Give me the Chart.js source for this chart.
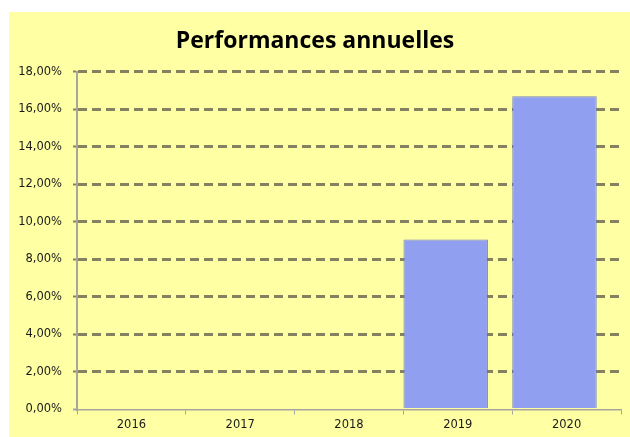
<!DOCTYPE html>
<html>
<head>
<meta charset="utf-8">
<script src="https://cdn.jsdelivr.net/npm/chart.js@4/dist/chart.umd.min.js"></script>
<style>
  html, body { margin: 0; padding: 0; background: #ffffff; width: 630px; height: 437px; overflow: hidden; }
  #c { position: absolute; left: 9px; top: 12px; background: #ffffa3; }
</style>
</head>
<body>
<canvas id="c" width="621" height="425"></canvas>
<script>
const categories = ['2016', '2017', '2018', '2019', '2020'];
const performances = [null, null, null, 9.06, 16.69];
const emptySeries = [null, null, null, null, null];
const chartTitle = 'Performances annuelles';
const yMin = 0, yMax = 18, yStep = 2;

const olive = '#838160';
const axisGray = '#a6a6a0';

new Chart(document.getElementById('c'), {
  type: 'bar',
  data: {
    labels: categories,
    datasets: [
      {
        label: 'Performances',
        data: performances,
        backgroundColor: '#909ff0',
        borderColor: 'rgba(95,110,200,0.85)',
        borderWidth: 1,
        categoryPercentage: 0.445,
        barPercentage: 3.49
      },
      {
        label: '',
        data: emptySeries,
        categoryPercentage: 0.445,
        barPercentage: 3.49
      }
    ]
  },
  options: {
    responsive: false,
    animation: false,
    devicePixelRatio: 1,
    layout: { padding: { left: 0, right: 9, top: 0, bottom: 0 } },
    plugins: {
      legend: { display: false },
      tooltip: { enabled: false },
      title: {
        display: true,
        text: chartTitle,
        color: '#000000',
        font: { family: 'Open Sans', size: 23, weight: 'bold', lineHeight: 1.2 },
        padding: { top: 16, bottom: 16 }
      }
    },
    scales: {
      x: {
        grid: {
          display: true,
          offset: true,
          drawOnChartArea: false,
          drawTicks: true,
          tickLength: 5,
          tickColor: axisGray,
          tickWidth: 1
        },
        border: { display: true, color: axisGray, width: 1.5 },
        ticks: {
          color: '#1a1a1a',
          font: { family: 'DejaVu Sans', size: 11.5 },
          padding: 4
        },
        afterFit: (s) => { s.height = 27.5; }
      },
      y: {
        min: yMin,
        max: yMax,
        ticks: {
          stepSize: yStep,
          color: '#1a1a1a',
          font: { family: 'DejaVu Sans', size: 11.5 },
          padding: 11,
          callback: (v) => v.toFixed(2).replace('.', ',') + '%'
        },
        grid: {
          color: (ctx) => (ctx.tick && ctx.tick.value === 0) ? 'rgba(0,0,0,0)' : olive,
          lineWidth: 3,
          tickColor: (ctx) => (ctx.tick && ctx.tick.value === 0) ? axisGray : olive,
          tickLength: 4,
          tickWidth: 2
        },
        border: { display: true, color: axisGray, width: 2, dash: [9, 5] },
        afterFit: (s) => { s.width = 68; }
      }
    }
  }
});
</script>
</body>
</html>
